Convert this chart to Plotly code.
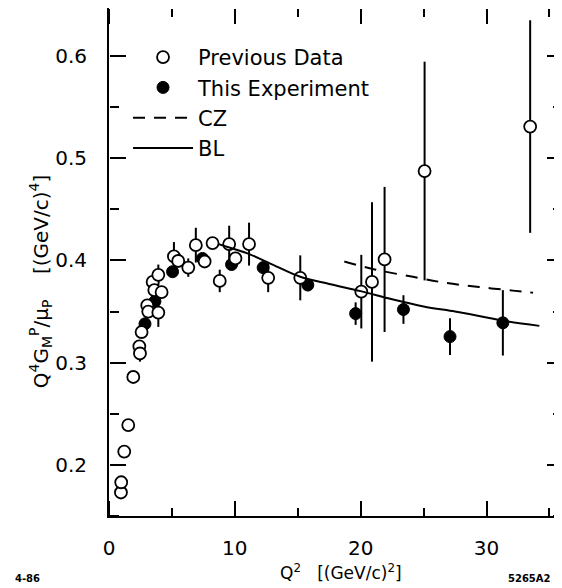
import plotly.graph_objects as go

# ---- data ----
prev_q2 = [0.95, 0.97, 1.21, 1.53, 1.93, 2.41, 2.46, 2.59, 3.04, 3.12, 3.47, 3.60, 3.92, 3.92,
           4.18, 5.16, 5.50, 6.30, 6.90, 7.60, 8.23, 8.80, 9.55, 10.05, 11.13, 12.65, 15.2,
           20.05, 20.9, 21.9, 25.08, 33.47]
prev_val = [0.173, 0.183, 0.213, 0.239, 0.286, 0.316, 0.309, 0.330, 0.356, 0.350, 0.379, 0.371,
            0.349, 0.386, 0.369, 0.404, 0.3995, 0.393, 0.415, 0.399, 0.417, 0.380, 0.416, 0.402,
            0.416, 0.383, 0.383, 0.3695, 0.379, 0.401, 0.4875, 0.531]
prev_err = [0, 0, 0, 0, 0, 0, 0.008, 0, 0, 0, 0, 0, 0.014, 0.010, 0, 0.014, 0, 0.009, 0.017,
            0, 0, 0.011, 0.018, 0, 0.021, 0.014, 0.022, 0.036, 0.078, 0.071, 0.107, 0.104]

exp_q2 = [2.86, 3.65, 5.05, 7.43, 9.74, 12.25, 15.8, 19.6, 23.4, 27.1, 31.3]
exp_val = [0.338, 0.360, 0.389, 0.402, 0.396, 0.393, 0.376, 0.348, 0.352, 0.3255, 0.339]
exp_err = [0, 0, 0.004, 0.004, 0.004, 0.005, 0.006, 0.011, 0.014, 0.018, 0.032]

cz_q2 = [18.7, 21.2, 24.15, 26.8, 29.4, 32.1, 33.7]
cz_val = [0.399, 0.391, 0.384, 0.378, 0.374, 0.3705, 0.3685]

bl_q2 = [8.7, 10.0, 11.0, 13.0, 15.2, 17.5, 20.0, 22.5, 25.0, 27.5, 29.5, 31.3, 34.2]
bl_val = [0.416, 0.411, 0.407, 0.396, 0.384, 0.377, 0.370, 0.362, 0.355, 0.350, 0.3455, 0.341, 0.336]

x_range = [0, 36]
y_range = [0.15, 0.647]

FONT = "DejaVu Sans"

fig = go.Figure()

# theory curves on overlay axes (same ranges) so the inward tick axes exist
fig.add_trace(go.Scatter(
    x=bl_q2, y=bl_val, mode="lines", name="BL", legendrank=4, xaxis="x2", yaxis="y2",
    line=dict(color="black", width=2, shape="spline"), hoverinfo="skip"))

fig.add_trace(go.Scatter(
    x=cz_q2, y=cz_val, mode="lines", name="CZ", legendrank=3, xaxis="x3", yaxis="y3",
    line=dict(color="black", width=2, dash="12px,9px", shape="spline"), hoverinfo="skip"))

fig.add_trace(go.Scatter(
    x=exp_q2, y=exp_val, mode="markers", name="This Experiment", legendrank=2,
    marker=dict(symbol="circle", size=12, color="black", line=dict(color="black", width=1)),
    error_y=dict(type="data", array=exp_err, visible=True, width=0, thickness=2, color="black")))

fig.add_trace(go.Scatter(
    x=prev_q2, y=prev_val, mode="markers", name="Previous Data", legendrank=1,
    marker=dict(symbol="circle", size=12, color="white", line=dict(color="black", width=1.8)),
    error_y=dict(type="data", array=prev_err, visible=True, width=0, thickness=2, color="black")))

tick_x = dict(range=x_range, tickmode="linear", tick0=0, dtick=10,
              showgrid=False, zeroline=False)
tick_y = dict(range=y_range, tickmode="linear", tick0=0.2, dtick=0.1,
              showgrid=False, zeroline=False)
inward_x = dict(ticks="outside", ticklen=15, tickwidth=2, tickcolor="black",
                minor=dict(dtick=5, ticks="outside", ticklen=8, tickwidth=2, tickcolor="black"),
                showticklabels=False, showline=False, overlaying="x", anchor="free")
inward_y = dict(ticks="outside", ticklen=16, tickwidth=2, tickcolor="black",
                minor=dict(dtick=0.05, ticks="outside", ticklen=9, tickwidth=2, tickcolor="black"),
                showticklabels=False, showline=False, overlaying="y", anchor="free")

fig.update_layout(
    template="simple_white",
    width=562, height=588,
    margin=dict(l=101, r=8, t=0, b=80, autoexpand=False),
    paper_bgcolor="white", plot_bgcolor="white",
    font=dict(family=FONT, size=21, color="black"),
    showlegend=True,
    legend=dict(x=0.042, y=0.943, xanchor="left", yanchor="top",
                bgcolor="rgba(0,0,0,0)", borderwidth=0,
                font=dict(family=FONT, size=21), tracegroupgap=0,
                itemwidth=60),
    # main axes: frame lines + labels (transparent spacer ticks keep labels off the frame)
    xaxis=dict(**tick_x, ticks="outside", ticklen=13, tickcolor="rgba(0,0,0,0)",
               showline=True, linewidth=2, linecolor="black", mirror=True,
               tickfont=dict(family=FONT, size=20, color="black")),
    yaxis=dict(**tick_y, tickformat=".1f", ticks="outside", ticklen=16,
               tickcolor="rgba(0,0,0,0)",
               showline=True, linewidth=2, linecolor="black", mirror=False,
               tickfont=dict(family=FONT, size=20, color="black")),
    # inward-pointing tick marks along the four edges
    xaxis2=dict(**tick_x, **inward_x, side="top", position=0),
    xaxis3=dict(**tick_x, **inward_x, side="bottom", position=1),
    yaxis2=dict(**tick_y, **inward_y, side="right", position=0),
    yaxis3=dict(**tick_y, **dict(inward_y, ticklen=15), side="left", position=1),
    annotations=[
        dict(text="Q<sup>4</sup>G<sub>M</sub><sup>P</sup>/μ<sub>P</sub>    [(GeV/c)<sup>4</sup>]",
             xref="paper", yref="paper", x=-0.152, y=0.4606, textangle=-90,
             xanchor="center", yanchor="middle",
             showarrow=False, font=dict(family=FONT, size=20)),
        dict(text="Q<sup>2</sup>   [(GeV/c)<sup>2</sup>]",
             xref="paper", yref="paper", x=0.512, y=-0.110,
             xanchor="center", yanchor="middle",
             showarrow=False, font=dict(family=FONT, size=17)),
        dict(text="<b>4-86</b>", xref="paper", yref="paper", x=-0.181, y=-0.124,
             xanchor="center", yanchor="middle", showarrow=False,
             font=dict(family=FONT, size=10)),
        dict(text="<b>5265A2</b>", xref="paper", yref="paper", x=0.929, y=-0.124,
             xanchor="center", yanchor="middle", showarrow=False,
             font=dict(family=FONT, size=10)),
    ],
)

fig.write_html("out.html")
